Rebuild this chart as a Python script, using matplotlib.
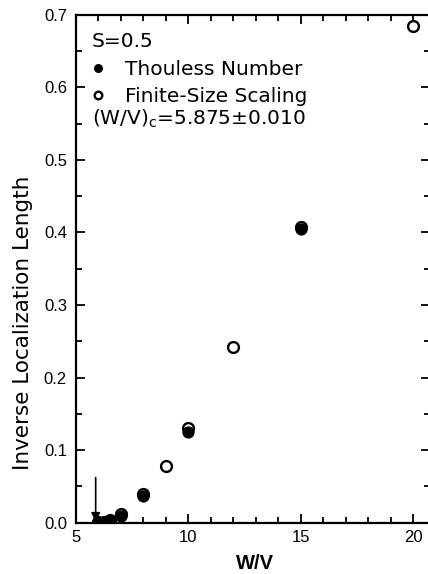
import matplotlib
matplotlib.use("Agg")
import matplotlib.pyplot as plt
from matplotlib.ticker import MultipleLocator

plt.rcParams['font.family'] = ['Liberation Sans', 'DejaVu Sans']
plt.rcParams['mathtext.fontset'] = 'dejavusans'

# disorder strength W/V and inverse localization length, S = 0.5
w_thouless = [6.0, 6.25, 6.5, 7.0, 8.0, 10.0, 15.0]
inv_thouless = [0.0005, 0.001, 0.002, 0.009, 0.036, 0.125, 0.405]

w_fss = [6.0, 6.25, 6.5, 7.0, 8.0, 9.0, 10.0, 12.0, 15.0, 20.0]
inv_fss = [0.0005, 0.001, 0.003, 0.012, 0.039, 0.078, 0.130, 0.242, 0.407, 0.685]

w_critical = 5.875
w_critical_err = 0.010

wide = ['DejaVu Sans']

fig = plt.figure(figsize=(4.28, 5.74), dpi=100)
ax = fig.add_axes([0.1776, 0.0897, 0.828, 0.8842])

open_pts, = ax.plot(w_fss, inv_fss, 'o', ms=7.8, mfc='white', mec='black',
                    mew=1.7, ls='none', zorder=3)
filled_pts, = ax.plot(w_thouless, inv_thouless, 'o', ms=7.8, mfc='black',
                      mec='black', mew=1.0, ls='none', zorder=4)

# arrow marking the critical disorder
ax.annotate('', xy=(w_critical, 0.001), xytext=(w_critical, 0.062),
            arrowprops=dict(arrowstyle='-|>', color='black', lw=1.2,
                            mutation_scale=13, shrinkA=0, shrinkB=0))

ax.set_xlim(5, 20.77)
ax.set_ylim(0, 0.7)
ax.xaxis.set_major_locator(MultipleLocator(5))
ax.xaxis.set_minor_locator(MultipleLocator(1))
ax.yaxis.set_major_locator(MultipleLocator(0.1))
ax.yaxis.set_minor_locator(MultipleLocator(0.05))
ax.yaxis.set_major_formatter(lambda v, p: f'{v:.1f}')
ax.tick_params(which='both', direction='in', top=True, right=True,
               labelsize=12, width=1.3)
ax.tick_params(which='major', length=6.5)
ax.tick_params(which='minor', length=4)
ax.tick_params(axis='y', pad=6.5)
ax.tick_params(axis='x', pad=5.5)
for s in ax.spines.values():
    s.set_linewidth(1.6)

ax.set_xlabel('W/V', fontsize=14.5, fontweight='bold')
ax.xaxis.set_label_coords(0.506, -0.062)
ax.set_ylabel('Inverse Localization Length', fontsize=15.5, family=wide)
ax.yaxis.set_label_coords(-0.121, 0.393)

ax.text(0.045, 0.947, 'S=0.5', transform=ax.transAxes, fontsize=14.5,
        family=wide, va='center', ha='left')
leg = ax.legend([filled_pts, open_pts], ['Thouless Number', 'Finite-Size Scaling'],
                loc='upper left', bbox_to_anchor=(0.034, 0.915), frameon=False,
                prop={'family': wide, 'size': 14.5}, markerscale=0.7,
                handlelength=0.8, handletextpad=0.95, labelspacing=0.37,
                borderpad=0.1, borderaxespad=0)
ax.text(0.045, 0.795,
        r'(W/V)$_\mathrm{c}$=%.3f$\pm$%.3f' % (w_critical, w_critical_err),
        transform=ax.transAxes, fontsize=14.5, family=wide,
        va='center', ha='left')

fig.savefig('out.png', dpi=100)
